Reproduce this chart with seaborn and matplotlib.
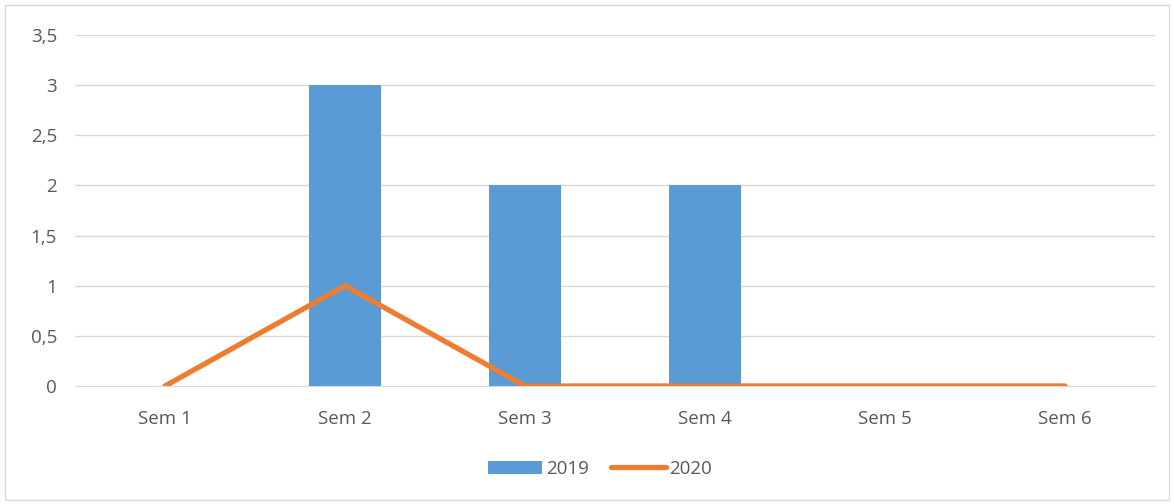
import matplotlib
matplotlib.use("Agg")
import matplotlib.pyplot as plt
import seaborn as sns
import pandas as pd
from matplotlib.patches import Rectangle
from matplotlib.lines import Line2D
from matplotlib.patches import Patch

# Data
weeks = ["Sem 1", "Sem 2", "Sem 3", "Sem 4", "Sem 5", "Sem 6"]
values_2019 = [0, 3, 2, 2, 0, 0]
values_2020 = [0, 1, 0, 0, 0, 0]
yticks = [0, 0.5, 1, 1.5, 2, 2.5, 3, 3.5]

blue = "#5B9BD5"
orange = "#ED7D31"
grey_txt = "#595959"
grid_col = "#D9D9D9"

sns.set_style("white")
plt.rcParams["font.family"] = ["Open Sans", "DejaVu Sans"]

df = pd.DataFrame({"week": weeks, "2019": values_2019, "2020": values_2020})

fig = plt.figure(figsize=(11.74, 5.04), dpi=100)
ax = fig.add_axes([75 / 1174, 1 - 386 / 504, 1080 / 1174, 351 / 504])

sns.barplot(data=df, x="week", y="2019", color=blue, width=0.4, saturation=1,
            linewidth=0, ax=ax)
sns.lineplot(data=df, x="week", y="2020", color=orange, linewidth=3.8, ax=ax,
             solid_capstyle="round", sort=False)

ax.set_xlim(-0.5, 5.5)
ax.set_ylim(0, 3.5)
ax.set_yticks(yticks)
ax.set_yticklabels([f"{v:g}".replace(".", ",") for v in yticks])
ax.set_xlabel("")
ax.set_ylabel("")
ax.yaxis.grid(True, color=grid_col, linewidth=1)
ax.set_axisbelow(True)
for s in ["top", "right", "left"]:
    ax.spines[s].set_visible(False)
ax.spines["bottom"].set_color(grid_col)
ax.tick_params(axis="both", length=0, labelsize=13.5, labelcolor=grey_txt)
ax.tick_params(axis="x", pad=17)
ax.tick_params(axis="y", pad=13)

# legend
handles = [Patch(facecolor=blue, edgecolor="none"),
           Line2D([0], [0], color=orange, linewidth=3.8, solid_capstyle="round")]
fig.legend(handles, ["2019", "2020"], loc="center", bbox_to_anchor=(0.511, 1 - 469 / 504),
           ncol=2, frameon=False, fontsize=13.5, labelcolor=grey_txt,
           handlelength=2.9, handletextpad=0.2, columnspacing=1.2)

# chart frame
fig.patches.append(Rectangle((5 / 1174, 4 / 504), 1164 / 1174, 495 / 504,
                             transform=fig.transFigure, fill=False,
                             edgecolor="#D9D9D9", linewidth=1))

fig.savefig("out.png", dpi=100)
